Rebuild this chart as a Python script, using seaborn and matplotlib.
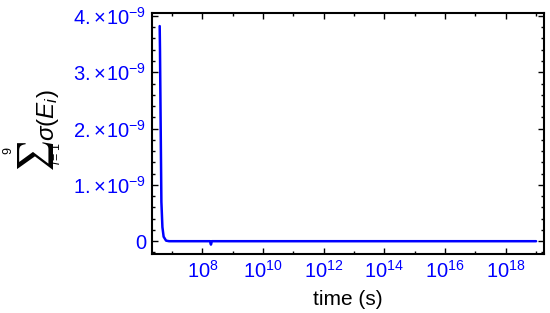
import numpy as np
import pandas as pd
import matplotlib
matplotlib.use("Agg")
import matplotlib.pyplot as plt
from matplotlib.ticker import FixedLocator, FuncFormatter
import seaborn as sns

# data (log10 of time, sum in units of 1e-9)
log_time = [6.59, 6.60, 6.62, 6.646, 6.68, 6.72, 6.80, 6.90, 7.5, 8.0,
            8.25, 8.28, 8.31, 9.0, 12.0, 16.0, 19.0]
sigma_sum = [3.82, 3.4, 2.2, 0.7, 0.25, 0.08, 0.01, 0.0, 0.0, 0.0,
             0.0, -0.06, 0.0, 0.0, 0.0, 0.0, 0.0]

xmajor = [8, 10, 12, 14, 16, 18]
xminor = [7, 9, 11, 13, 15, 17, 19]
ymajor = [0, 1, 2, 3, 4]

df = pd.DataFrame({"time": 10.0 ** np.array(log_time),
                   "sigma": np.array(sigma_sum) * 1e-9})

sns.set_style("ticks")
plt.rcParams["font.family"] = ["Liberation Sans", "DejaVu Sans"]
plt.rcParams["mathtext.fontset"] = "custom"
plt.rcParams["mathtext.rm"] = "Liberation Sans"
plt.rcParams["mathtext.it"] = "Liberation Sans:italic"

W, H = 550, 313
fig = plt.figure(figsize=(W / 100, H / 100), dpi=100)
ax = fig.add_axes([0.276, 0.188, 0.713, 0.770])

sns.lineplot(data=df, x="time", y="sigma", ax=ax, color="#0000ff",
             linewidth=1.8, sort=False)

ax.set_xscale("log")
ax.set_xlim(10 ** 6.33, 10 ** 19.26)
ax.set_ylim(-0.23e-9, 4.05e-9)

ax.xaxis.set_major_locator(FixedLocator([10.0 ** e for e in xmajor]))
ax.xaxis.set_minor_locator(FixedLocator([10.0 ** e for e in xminor]))
ax.xaxis.set_major_formatter(FuncFormatter(
    lambda v, p: r"$\mathregular{10^{%d}}$" % round(np.log10(v))))
ax.xaxis.set_minor_formatter(FuncFormatter(lambda v, p: ""))

ax.yaxis.set_major_locator(FixedLocator([k * 1e-9 for k in ymajor]))
ax.yaxis.set_minor_locator(FixedLocator(
    [k * 0.2e-9 for k in range(-1, 21) if k % 5 != 0]))
ax.yaxis.set_major_formatter(FuncFormatter(
    lambda v, p: "0" if abs(v) < 1e-15 else
    r"$\mathregular{%d.\!\times\!10^{-9}}$" % round(v * 1e9)))

ax.tick_params(which="both", direction="in", top=True, right=True,
               colors="black", labelcolor="#0000ff", labelsize=14.5, width=1)
ax.tick_params(which="major", length=4, pad=4)
ax.tick_params(which="minor", length=2)

for s in ax.spines.values():
    s.set_linewidth(1.5)
    s.set_color("black")

ax.set_xlabel("time (s)", fontsize=15, color="black", labelpad=6)
ax.set_ylabel("")

# y label built from pieces so the sum sign can be large (display style)
def put(x, y, s, size, **kw):
    fig.text(x / W, 1 - y / H, s, fontsize=size, rotation=90,
             ha="center", va="center", color="black", **kw)

put(8.5, 151, "9", 9)
put(34, 153, "\u2211", 25, family=["STIXGeneral", "DejaVu Sans"])
put(57, 153.5, r"$i\mathregular{=1}$", 9)
put(48, 115, r"$\sigma(E_i)$", 17.5)

fig.savefig("out.png", dpi=100)
